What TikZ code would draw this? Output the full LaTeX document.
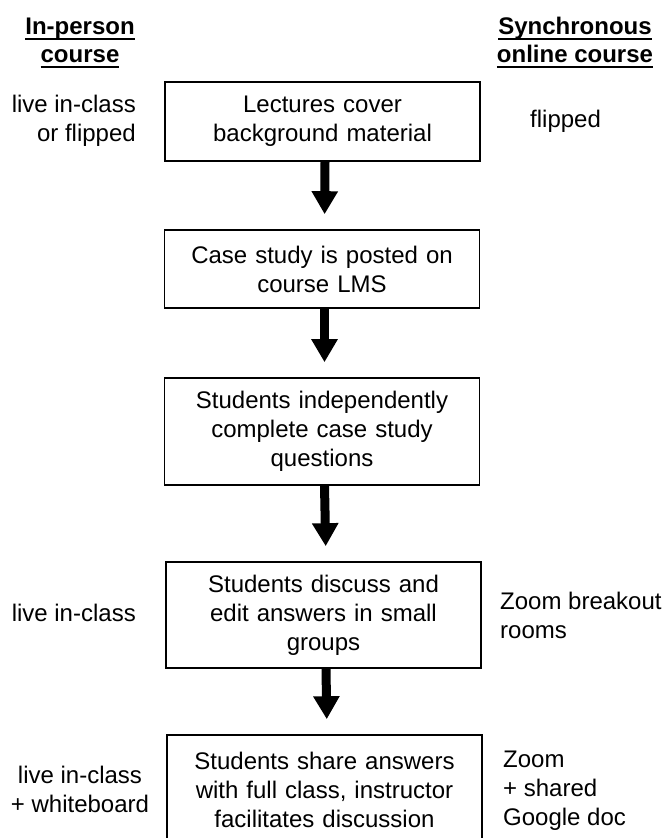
\documentclass[tikz,border=0pt]{standalone}
\usepackage{fontspec}
\setmainfont{Liberation Sans}
\usetikzlibrary{arrows.meta}
\newlength\ulwidth
\newcommand\myul[1]{\settowidth\ulwidth{#1}\rlap{\rule[-5pt]{\ulwidth}{2pt}}#1}
\begin{document}
\begin{tikzpicture}[x=1pt,y=-1pt,
  every node/.style={font=\fontsize{24}{29}\selectfont, inner sep=0pt},
  stepbox/.style={draw, line width=1.6pt, minimum width=315pt, text width=305pt, align=center},
  heading/.style={font=\bfseries\fontsize{24}{28}\selectfont, align=center},
  flow/.style={line width=9pt, -{Triangle[width=25pt,length=23pt]}, shorten >=15pt}
]
\useasboundingbox (0,0) rectangle (662,838);

\node[stepbox, minimum height=79pt] (b1) at (322.5,121.5) {Lectures cover\\background material};
\node[stepbox, minimum height=78pt] (b2) at (322,269) {Case study is posted on\\course LMS};
\node[stepbox, minimum height=107pt] (b3) at (322,431.5) {Students independently\\complete case study\\questions};
\node[stepbox, minimum height=106pt] (b4) at (323.5,615) {Students discuss and\\edit answers in small\\groups};
\node[stepbox, minimum height=110pt] (b5) at (324.5,790) {Students share answers\\with full class, instructor\\facilitates discussion};

\draw[flow] ([xshift=2.5pt]b1.south) -- ([xshift=2.5pt]b2.north);
\draw[flow] ([xshift=2.5pt]b2.south) -- ([xshift=2.5pt]b3.north);
\draw[flow] ([xshift=2.5pt]b3.south) -- ([xshift=2.5pt]b4.north);
\draw[flow] ([xshift=2.5pt]b4.south) -- ([xshift=2.5pt]b5.north);

\node[heading] (hl) at (80,42.8) {\myul{In-person}\\\myul{course}};
\node[heading] (hr) at (575,42.8) {\myul{Synchronous}\\\myul{online course}};

\node[anchor=east, align=right] (l1) at (136,120.3) {live in-class\\or flipped};
\node[anchor=west] (r1) at (530,121) {flipped};
\node[anchor=east] (l4) at (136,613) {live in-class};
\node[anchor=west, align=left] (r4) at (500,615) {Zoom breakout\\rooms};
\node[align=center] (l5) at (80,789) {live in-class\\+ whiteboard};
\node[anchor=west, align=left] (r5) at (503,791) {Zoom\\+ shared\\Google doc};
\end{tikzpicture}
\end{document}
